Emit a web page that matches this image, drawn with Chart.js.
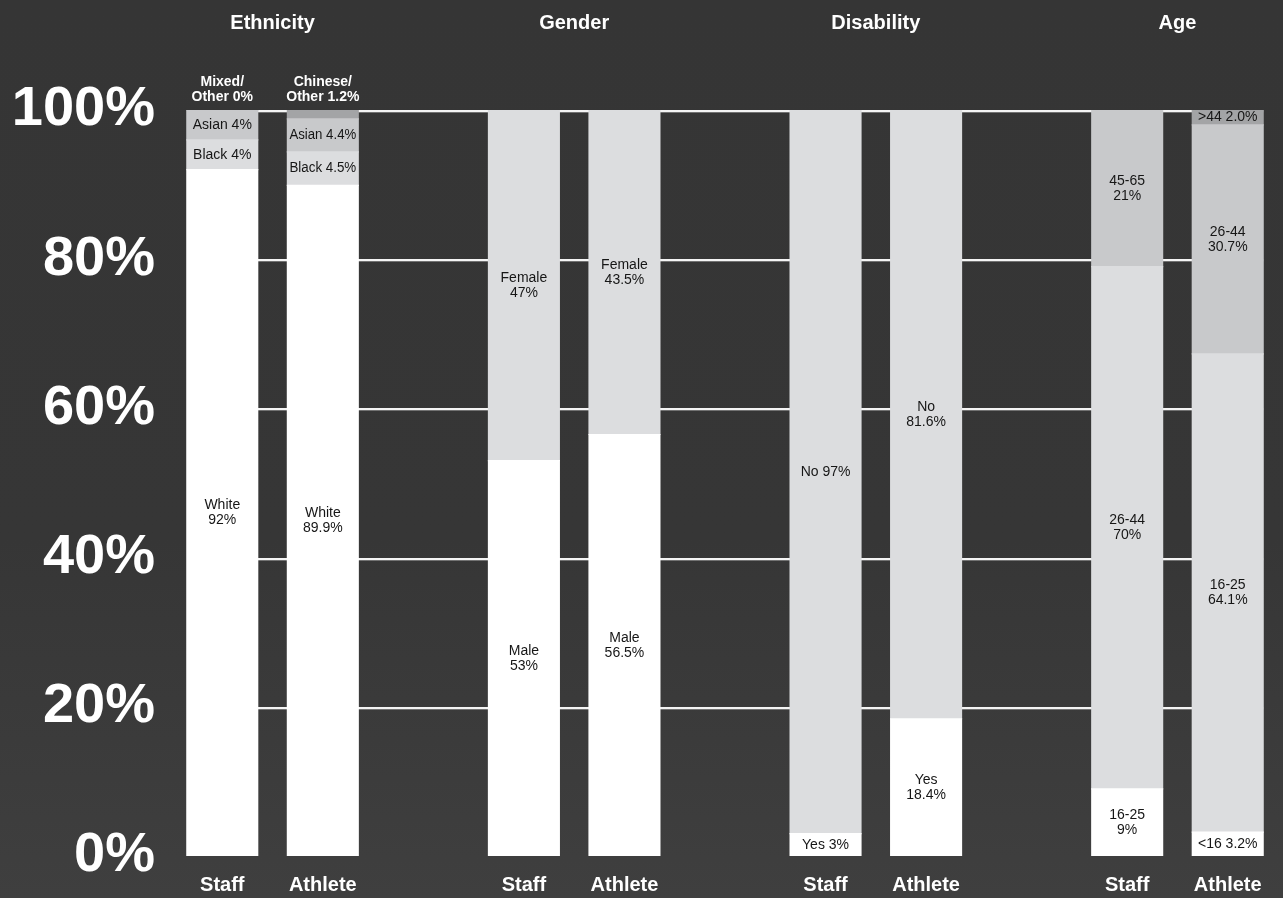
<!DOCTYPE html>
<html>
<head>
<meta charset="utf-8">
<script src="https://cdn.jsdelivr.net/npm/chart.js@4"></script>
<style>
  html, body { margin: 0; padding: 0; }
  body {
    width: 1283px; height: 898px; overflow: hidden;
    background: linear-gradient(#353535 0%, #363636 60%, #3f3f3f 100%);
  }
  #wrap { width: 1283px; height: 898px; position: relative; }
</style>
</head>
<body>
<div id="wrap"><canvas id="demoChart"></canvas></div>
<script>
const categories = ['Staff', 'Athlete', '', 'Staff', 'Athlete', '', 'Staff', 'Athlete', '', 'Staff', 'Athlete'];
const groups = ['Ethnicity', 'Gender', 'Disability', 'Age'];
const groupStart = [0, 3, 6, 9];
const yTicks = [0, 20, 40, 60, 80, 100];

// segments, bottom to top
const level1 = [92, 89.9, null, 53, 56.5, null, 3, 18.4, null, 9, 3.2];
const level2 = [4, 4.5, null, 47, 43.5, null, 97, 81.6, null, 70, 64.1];
const level3 = [4, 4.4, null, null, null, null, null, null, null, 21, 30.7];
const level4 = [0, 1.2, null, null, null, null, null, null, null, null, 2.0];

const names1 = ['White', 'White', '', 'Male', 'Male', '', 'Yes', 'Yes', '', '16-25', '<16'];
const names2 = ['Black', 'Black', '', 'Female', 'Female', '', 'No', 'No', '', '26-44', '16-25'];
const names3 = ['Asian', 'Asian', '', '', '', '', '', '', '', '45-65', '26-44'];
const names4 = ['Mixed/Other', 'Chinese/Other', '', '', '', '', '', '', '', '', '>44'];
const oneLine = ['1-6']; // "No 97%" is written on a single line

const levels = [level1, level2, level3, level4];
const levelNames = [names1, names2, names3, names4];
const colors = ['#ffffff', '#dcdddf', '#c8c9cb', '#a3a4a6'];

Chart.defaults.font.family = '"Liberation Sans", Arial, sans-serif';

function fmt(v, i) {
  return (categories[i] === 'Staff' ? String(v) : v.toFixed(1)) + '%';
}

const gridPlugin = {
  id: 'gridLines',
  beforeDatasetsDraw(chart) {
    const ctx = chart.ctx;
    const y = chart.scales.y;
    const bars = chart.getDatasetMeta(0).data;
    const first = bars[0], last = bars[bars.length - 1];
    const left = first.x - first.width / 2 + 1;
    const right = last.x + last.width / 2;
    ctx.save();
    yTicks.forEach(t => {
      if (t === 0) return;
      const py = Math.round(y.getPixelForValue(t));
      ctx.fillStyle = '#f4f4f4';
      ctx.fillRect(left, py, right - left, 2);
      ctx.fillStyle = 'rgba(255,255,255,0.3)';
      ctx.fillRect(left, py + 2, right - left, 1);
    });
    ctx.restore();
  }
};

const labelPlugin = {
  id: 'segLabels',
  afterDatasetsDraw(chart) {
    const ctx = chart.ctx;
    const y = chart.scales.y;
    ctx.save();
    ctx.textAlign = 'center';
    ctx.textBaseline = 'middle';
    levels.forEach((vals, d) => {
      const meta = chart.getDatasetMeta(d);
      vals.forEach((v, i) => {
        if (v === null || !levelNames[d][i]) return;
        const el = meta.data[i];
        const name = levelNames[d][i];
        const top = Math.min(el.y, el.base);
        const h = Math.abs(el.base - el.y);
        const cy = top + h / 2;
        const maxW = el.width - 4;
        if (h < 12) {
          // too thin: written above the bar
          const topPx = y.getPixelForValue(100);
          const parts = name.split('/');
          ctx.fillStyle = '#ffffff';
          ctx.font = 'bold 14px "Liberation Sans", Arial, sans-serif';
          ctx.fillText(parts[0] + '/', el.x, topPx - 28, el.width + 6);
          ctx.fillText(parts[1] + ' ' + fmt(v, i), el.x, topPx - 13, el.width + 6);
          return;
        }
        ctx.fillStyle = '#161616';
        ctx.font = '14px "Liberation Sans", Arial, sans-serif';
        if (h < 40 || oneLine.includes(d + '-' + i)) {
          ctx.fillText(name + ' ' + fmt(v, i), el.x, cy, maxW);
        } else {
          ctx.fillText(name, el.x, cy - 7.5, maxW);
          ctx.fillText(fmt(v, i), el.x, cy + 7.5, maxW);
        }
      });
    });
    ctx.restore();
  },
  afterDraw(chart) {
    const ctx = chart.ctx;
    const x = chart.scales.x;
    ctx.save();
    ctx.fillStyle = '#ffffff';
    ctx.font = 'bold 20px "Liberation Sans", Arial, sans-serif';
    ctx.textAlign = 'center';
    ctx.textBaseline = 'middle';
    groups.forEach((g, k) => {
      const i = groupStart[k];
      const cx = (x.getPixelForValue(i) + x.getPixelForValue(i + 1)) / 2;
      ctx.fillText(g, cx, 23);
    });
    ctx.restore();
  }
};

new Chart(document.getElementById('demoChart').getContext('2d'), {
  type: 'bar',
  data: {
    labels: categories,
    datasets: levels.map((vals, d) => ({
      data: vals,
      backgroundColor: colors[d],
      borderWidth: 0,
      inflateAmount: 0.6,
      barPercentage: 0.705,
      categoryPercentage: 1.0
    }))
  },
  options: {
    responsive: true,
    maintainAspectRatio: false,
    animation: false,
    layout: { padding: { top: 110, right: 5, bottom: 0, left: 0 } },
    plugins: { legend: { display: false }, tooltip: { enabled: false } },
    scales: {
      x: {
        stacked: true,
        grid: { display: false, drawTicks: false },
        border: { display: false },
        ticks: {
          autoSkip: false, maxRotation: 0, padding: 17,
          color: '#ffffff',
          font: { size: 20, weight: 'bold' }
        },
        afterFit(scale) { scale.height = 42; }
      },
      y: {
        stacked: true,
        min: 0, max: 100,
        grid: { display: false, drawTicks: false },
        border: { display: false },
        afterBuildTicks(scale) { scale.ticks = yTicks.map(v => ({ value: v })); },
        ticks: {
          padding: 17,
          color: '#ffffff',
          font: { size: 56, weight: 'bold', lineHeight: 0.6 },
          callback: v => v + '%'
        },
        afterFit(scale) { scale.width = 172; }
      }
    }
  },
  plugins: [gridPlugin, labelPlugin]
});
</script>
</body>
</html>
